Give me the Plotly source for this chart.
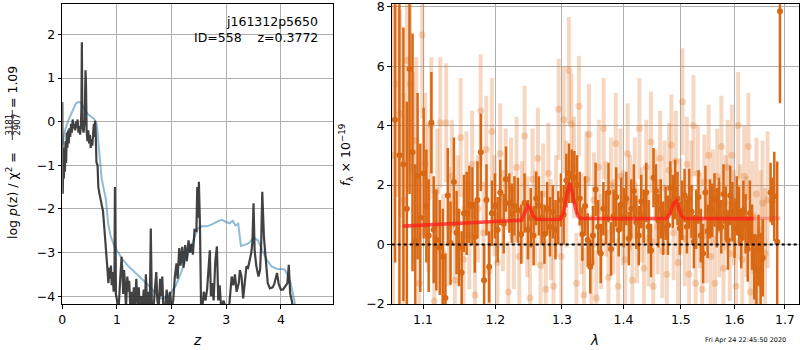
import plotly.graph_objects as go
import numpy as np

# ---- redshift probability, log p(z) ----
z_pz = [0.000, 0.008, 0.018, 0.028, 0.038, 0.048, 0.058, 0.070, 0.082, 0.094,
        0.106, 0.118, 0.130, 0.145, 0.160, 0.175, 0.190, 0.205, 0.220, 0.235,
        0.250, 0.265, 0.280, 0.295, 0.310, 0.325, 0.340, 0.350, 0.358, 0.368,
        0.390, 0.410, 0.425, 0.433, 0.445, 0.460, 0.475, 0.490, 0.505, 0.520,
        0.535, 0.550, 0.565, 0.578, 0.590, 0.600, 0.612, 0.625, 0.645, 0.660,
        0.680, 0.700, 0.725, 0.745, 0.770, 0.790, 0.805, 0.825, 0.845, 0.860,
        0.875, 0.890, 0.905, 0.920, 0.940, 0.955, 0.963, 0.980, 1.000, 1.030,
        1.060, 1.085, 1.100, 1.115, 1.130, 1.150, 1.165, 1.190, 1.210, 1.225,
        1.245, 1.270, 1.290, 1.310, 1.330, 1.355, 1.380, 1.400, 1.420, 1.440,
        1.465, 1.490, 1.510, 1.530, 1.550, 1.575, 1.600, 1.620, 1.640, 1.670,
        1.700, 1.720, 1.740, 1.765, 1.790, 1.810, 1.830, 1.850, 1.880, 1.910,
        1.940, 1.970, 2.000, 2.030, 2.060, 2.090, 2.110, 2.140, 2.165, 2.195,
        2.220, 2.250, 2.280, 2.310, 2.340, 2.365, 2.390, 2.420, 2.455, 2.470,
        2.485, 2.500, 2.520, 2.540, 2.560, 2.590, 2.620, 2.650, 2.680, 2.700,
        2.720, 2.740, 2.770, 2.800, 2.830, 2.855, 2.880, 2.910, 2.950, 3.000,
        3.050, 3.100, 3.130, 3.160, 3.190, 3.230, 3.250, 3.280, 3.310, 3.340,
        3.370, 3.400, 3.430, 3.460, 3.480, 3.500, 3.520, 3.550, 3.590, 3.620,
        3.640, 3.660, 3.690, 3.720, 3.760, 3.800, 3.850, 3.880, 3.930, 3.960,
        4.000, 4.040, 4.080, 4.120, 4.145, 4.170, 4.200, 4.240]
logp = [0.45, -1.65, -0.9, -1.3, -0.6, -1.15, -0.45, -0.95, -0.25, -0.6,
        -0.2, -0.5, -0.15, -0.35, -0.05, -0.25, 0.05, -0.15, -0.05, -0.2,
        0.0, -0.15, 0.05, -0.25, -0.1, -0.3, -0.1, 0.3, 1.82, -0.1,
        -0.25, 0.05, 1.18, 0.9, -0.2, -0.45, -0.2, -0.5, -0.3, -0.6,
        -0.4, -0.55, -0.25, -0.05, -0.35, 0.02, -0.3, -0.93, -1.0, -1.5,
        -1.65, -1.78, -1.9, -2.05, -2.45, -2.75, -3.0, -3.3, -3.7, -3.35,
        -3.6, -3.3, -3.75, -3.45, -3.9, -3.6, -1.5, -3.95, -4.1, -4.3,
        -3.6, -3.1, -3.45, -3.95, -3.4, -3.75, -4.3, -3.55, -3.9, -3.65,
        -4.3, -3.9, -4.3, -3.8, -4.2, -3.6, -4.3, -3.8, -4.3, -4.0,
        -4.3, -3.85, -4.3, -3.5, -4.2, -3.9, -4.3, -2.45, -4.3, -4.3,
        -3.75, -3.45, -4.1, -4.3, -3.6, -4.0, -3.55, -4.3, -4.3, -3.85,
        -4.3, -3.9, -4.3, -4.1, -3.55, -3.25, -3.6, -2.9, -3.3, -2.87,
        -3.35, -2.83, -3.2, -2.72, -3.0, -2.8, -3.05, -2.48, -2.5, -1.5,
        -2.2, -1.38, -2.4, -4.3, -4.3, -3.9, -4.1, -3.85, -3.3, -2.95,
        -4.0, -3.7, -4.1, -3.2, -2.86, -4.1, -3.75, -4.3, -4.1, -4.3,
        -4.3, -3.55, -3.75, -3.5, -3.9, -3.7, -3.4, -3.55, -4.05, -3.7,
        -3.32, -3.35, -3.17, -3.0, -2.75, -1.87, -2.95, -3.3, -3.55, -3.4,
        -2.8, -1.61, -2.64, -3.15, -3.7, -3.82, -3.8, -3.72, -3.47, -3.72,
        -3.85, -3.85, -3.78, -3.7, -3.28, -3.93, -4.1, -4.4]

# smoothed / prior curve
z_prior = [0.00, 0.05, 0.10, 0.15, 0.20, 0.25, 0.30, 0.34, 0.38, 0.42,
           0.47, 0.52, 0.58, 0.63, 0.66, 0.69, 0.72, 0.76, 0.80, 0.84,
           0.88, 0.95, 1.02, 1.10, 1.20, 1.30, 1.40, 1.50, 1.60, 1.68,
           1.76, 1.84, 1.92, 2.00, 2.08, 2.16, 2.24, 2.32, 2.40, 2.48,
           2.55, 2.65, 2.75, 2.85, 2.92, 3.00, 3.06, 3.12, 3.17, 3.22,
           3.27, 3.35, 3.42, 3.50, 3.58, 3.66, 3.75, 3.83, 3.92, 4.00,
           4.07, 4.12, 4.18, 4.24, 4.30]
logp_prior = [-0.55, -0.2, 0.0, 0.15, 0.3, 0.42, 0.45, 0.44, 0.35, 0.25,
              0.17, 0.12, 0.07, -0.05, -0.5, -0.9, -1.3, -1.55, -1.8, -2.35,
              -2.6, -2.85, -3.0, -3.15, -3.3, -3.42, -3.55, -3.65, -3.78, -3.9,
              -4.02, -4.07, -4.0, -3.9, -3.75, -3.5, -3.25, -3.0, -2.72, -2.45,
              -2.4, -2.4, -2.35, -2.28, -2.25, -2.3, -2.33, -2.27, -2.38, -2.34,
              -2.85, -2.82, -2.78, -2.66, -2.72, -2.95, -3.18, -3.32, -3.37, -3.38,
              -3.39, -3.5, -3.7, -4.05, -4.5]

# ---- binned spectrum (units of 1e-19) ----
wave_bin = [1.0636, 1.0692, 1.0743, 1.0788, 1.0823, 1.0862, 1.0898, 1.0928, 1.0964, 1.1008,
            1.1044, 1.1075, 1.1111, 1.1142, 1.1178, 1.1223, 1.1264, 1.1301, 1.1333, 1.1370,
            1.1416, 1.1453, 1.1485, 1.1523, 1.1555, 1.1593, 1.1631, 1.1673, 1.1706, 1.1744,
            1.1792, 1.1839, 1.1873, 1.1911, 1.1950, 1.1994, 1.2033, 1.2071, 1.2121, 1.2155,
            1.2204, 1.2240, 1.2279, 1.2330, 1.2379, 1.2429, 1.2480, 1.2522, 1.2565, 1.2604,
            1.2645, 1.2688, 1.2730, 1.2772, 1.2815, 1.2858, 1.2900, 1.2943, 1.2985, 1.3028,
            1.3070, 1.3112, 1.3155, 1.3197, 1.3240, 1.3282, 1.3325, 1.3368, 1.3410, 1.3452,
            1.3495, 1.3538, 1.3580, 1.3622, 1.3665, 1.3708, 1.3750, 1.3792, 1.3835, 1.3878,
            1.3920, 1.3962, 1.4005, 1.4048, 1.4090, 1.4132, 1.4175, 1.4218, 1.4260, 1.4302,
            1.4345, 1.4388, 1.4430, 1.4472, 1.4515, 1.4558, 1.4600, 1.4642, 1.4685, 1.4728,
            1.4770, 1.4812, 1.4855, 1.4898, 1.4940, 1.4982, 1.5025, 1.5068, 1.5110, 1.5152,
            1.5195, 1.5238, 1.5280, 1.5322, 1.5365, 1.5408, 1.5450, 1.5492, 1.5535, 1.5578,
            1.5620, 1.5662, 1.5705, 1.5748, 1.5790, 1.5832, 1.5875, 1.5918, 1.5960, 1.6002,
            1.6045, 1.6088, 1.6130, 1.6172, 1.6215, 1.6258, 1.6300, 1.6342, 1.6385, 1.6428,
            1.6470, 1.6512, 1.6555, 1.6710, 1.6745, 1.6785, 1.6845, 1.6900]
flux_bin = [4.2, 3.0, 2.7, 1.2, 5.9, 3.1, 0.1, 2.3, 0.9, 2.4,
            1.3, 0.3, 4.1, 0.5, 0.15, -0.1, -0.4, -1.8, 1.65, 0.05,
            2.1, 0.4, -0.1, -0.95, 1.05, 1.05, 1.35, 1.3, 0.25, 1.5,
            3.1, -1.2, 1.5, -0.75, 1.05, 1.3, 0.5, 1.75, 0.7, 2.2,
            1.4, 1.05, 1.3, 1.15, 0.35, 1.4, 0.5, 0.9, 0.3, 1.55,
            1.3, 0.9, 0.35, 1.2, 0.6, 1.1, 0.5, 0.9, 1.5, 1.0,
            2.15, 2.4, 2.3, 2.25, 2.0, 1.55, 0.35, 1.3, 0.15, -0.75,
            0.3, 1.85, 0.6, -0.3, 1.2, 0.9, 1.75, -0.15, 0.95, 1.6,
            0.5, 1.35, 0.9, 1.55, 0.2, 1.2, 1.8, 0.75, 0.3, 1.45,
            0.95, 1.75, 0.6, -0.2, 2.25, 1.8, 0.8, 1.2, 0.55, 1.05,
            0.65, 1.9, 1.45, 1.85, 1.55, 0.55, 1.15, 1.65, 0.6, 1.55,
            1.1, 0.1, 0.85, 1.6, 0.3, -0.3, 1.75, 0.45, 1.2, 1.15,
            1.5, 0.9, 1.35, 0.6, 1.7, 1.05, 0.15, 1.65, 1.1, 0.55,
            1.3, 0.95, 0.2, 1.15, 0.7, -0.15, 1.05, 0.25, -0.75, -0.85,
            -0.2, -0.9, -0.45, 1.75, 1.45, 1.62, 0.09, 7.85]
err_bin = [4.8, 5.5, 4.6, 3.6, 4.2, 4.0, 2.6, 2.8, 2.5, 2.2,
           1.9, 1.9, 1.7, 1.8, 1.7, 1.6, 1.6, 1.5, 1.6, 1.4,
           1.5, 1.4, 1.3, 1.4, 1.3, 1.4, 1.3, 1.3, 1.2, 1.3,
           1.3, 1.2, 1.2, 1.2, 1.1, 1.1, 1.1, 1.1, 1.0, 1.1,
           1.0, 1.0, 1.0, 1.1, 1.0, 1.0, 1.0, 1.0, 1.0, 0.9,
           1.0, 0.9, 1.0, 0.9, 1.0, 0.9, 1.0, 0.9, 0.9, 1.0,
           0.9, 1.0, 0.9, 0.9, 1.0, 0.9, 0.9, 1.0, 0.9, 0.9,
           1.0, 0.9, 0.9, 1.0, 0.9, 0.9, 1.0, 0.9, 0.9, 1.0,
           0.9, 0.9, 1.0, 0.9, 0.9, 1.0, 0.9, 0.9, 1.0, 0.9,
           0.9, 1.0, 0.9, 0.9, 1.0, 0.9, 0.9, 1.0, 0.9, 0.9,
           1.0, 0.9, 0.9, 1.0, 0.9, 0.9, 1.0, 0.9, 0.9, 1.0,
           0.9, 0.9, 1.0, 0.9, 0.9, 1.0, 0.9, 0.9, 1.0, 0.9,
           0.9, 1.0, 0.9, 0.9, 1.0, 0.9, 1.0, 1.0, 1.0, 1.0,
           1.0, 1.0, 1.0, 1.0, 1.0, 1.1, 1.1, 1.1, 1.1, 1.2,
           1.2, 1.3, 1.3, 1.0, 0.8, 1.5, 2.7, 3.1]

# ---- individual-beam spectrum (units of 1e-19) ----
wave_beam = [1.0610, 1.0655, 1.0700, 1.0745, 1.0790, 1.0830, 1.0870, 1.0910, 1.0950, 1.0990,
             1.1030, 1.1070, 1.1110, 1.1150, 1.1190, 1.1230, 1.1270, 1.1310, 1.1350, 1.1390,
             1.1430, 1.1470, 1.1510, 1.1550, 1.1590, 1.1630, 1.1670, 1.1710, 1.1750, 1.1790,
             1.1830, 1.1870, 1.1910, 1.1950, 1.1990, 1.2030, 1.2070, 1.2110, 1.2150, 1.2190,
             1.2230, 1.2270, 1.2310, 1.2350, 1.2390, 1.2430, 1.2470, 1.2510, 1.2550, 1.2590,
             1.2630, 1.2670, 1.2710, 1.2750, 1.2790, 1.2830, 1.2870, 1.2910, 1.2950, 1.2990,
             1.3030, 1.3070, 1.3110, 1.3150, 1.3190, 1.3230, 1.3270, 1.3310, 1.3350, 1.3390,
             1.3430, 1.3470, 1.3510, 1.3550, 1.3590, 1.3630, 1.3670, 1.3710, 1.3750, 1.3790,
             1.3830, 1.3870, 1.3910, 1.3950, 1.3990, 1.4030, 1.4070, 1.4110, 1.4150, 1.4190,
             1.4230, 1.4270, 1.4310, 1.4350, 1.4390, 1.4430, 1.4470, 1.4510, 1.4550, 1.4590,
             1.4630, 1.4670, 1.4710, 1.4750, 1.4790, 1.4830, 1.4870, 1.4910, 1.4950, 1.4990,
             1.5030, 1.5070, 1.5110, 1.5150, 1.5190, 1.5230, 1.5270, 1.5310, 1.5350, 1.5390,
             1.5430, 1.5470, 1.5510, 1.5550, 1.5590, 1.5630, 1.5670, 1.5710, 1.5750, 1.5790,
             1.5830, 1.5870, 1.5910, 1.5950, 1.5990, 1.6030, 1.6070, 1.6110, 1.6150, 1.6190,
             1.6230, 1.6270, 1.6310, 1.6350, 1.6390, 1.6430, 1.6470, 1.6510, 1.6550, 1.6600,
             1.6650]
flux_beam = [3.0, 5.4, 4.4, 1.5, 6.2, 5.4, 2.6, 3.5, -1.3, 7.05,
             2.7, 1.6, 4.0, -1.9, 1.8, 4.1, -0.3, 4.1, 0.6, 2.3,
             -1.2, 1.1, 3.6, -0.5, 2.0, 0.3, 2.7, -1.7, 1.2, 4.5,
             0.4, 3.2, -0.9, 3.8, 1.3, -0.6, 3.05, 0.8, 2.2, -1.6,
             1.9, 0.2, 2.6, -0.4, 1.1, 3.65, 0.6, -1.8, 2.2, 0.9,
             2.9, -0.7, 1.7, -1.5, 2.4, 0.5, -1.4, 1.3, 4.55, -0.4,
             4.2, 1.7, 5.85, 4.05, 2.6, -1.3, 4.65, 0.7, -1.7, 2.2,
             3.7, -0.6, 1.5, -1.8, 2.6, 0.1, 3.9, 1.2, -1.1, 2.0,
             0.6, 3.4, -1.4, 2.3, 0.9, -0.5, 3.05, 1.4, -1.2, 2.0,
             0.3, 3.9, 1.0, -0.8, 2.6, 0.2, 3.45, -1.4, 1.6, 0.6,
             2.9, -0.2, 1.9, -1.0, 2.5, 3.35, 0.4, 2.8, -0.6, 1.3,
             4.8, 0.2, 2.7, -1.0, 1.9, 4.0, -1.3, 2.4, 0.8, -1.5,
             2.1, 0.3, 3.0, -0.4, 1.6, -1.3, 2.3, 0.5, 3.3, -0.8,
             1.4, 2.6, -0.3, 3.0, 0.9, -1.4, 4.0, 1.1, -0.5, 2.3,
             0.6, 3.3, -1.6, 1.0, -0.9, 1.7, -1.2, 0.5, 1.4, -0.3,
             1.5]
err_beam = [6.0, 3.8, 3.5, 3.6, 3.4, 3.0, 3.2, 2.8, 2.6, 2.8,
            2.4, 2.5, 2.3, 2.2, 2.1, 2.2, 2.0, 2.0, 2.0, 1.9,
            1.9, 1.9, 2.0, 1.8, 1.8, 1.8, 1.8, 1.8, 1.8, 1.9,
            1.7, 1.8, 1.7, 1.8, 1.7, 1.7, 1.7, 1.7, 1.7, 1.7,
            1.7, 1.7, 1.7, 1.7, 1.7, 1.7, 1.7, 1.7, 1.7, 1.6,
            1.7, 1.6, 1.7, 1.7, 1.7, 1.7, 1.7, 1.7, 1.7, 1.7,
            1.8, 1.8, 1.8, 1.7, 1.7, 1.7, 1.7, 1.7, 1.6, 1.6,
            1.7, 1.6, 1.6, 1.6, 1.6, 1.6, 1.7, 1.6, 1.6, 1.6,
            1.6, 1.7, 1.6, 1.6, 1.6, 1.6, 1.7, 1.6, 1.6, 1.6,
            1.6, 1.7, 1.6, 1.6, 1.6, 1.6, 1.7, 1.6, 1.6, 1.6,
            1.6, 1.6, 1.6, 1.6, 1.6, 1.7, 1.6, 1.7, 1.6, 1.6,
            1.8, 1.6, 1.6, 1.6, 1.6, 1.7, 1.6, 1.6, 1.6, 1.6,
            1.6, 1.6, 1.7, 1.6, 1.6, 1.6, 1.6, 1.6, 1.7, 1.6,
            1.6, 1.6, 1.6, 1.7, 1.6, 1.6, 1.8, 1.6, 1.7, 1.7,
            1.7, 1.8, 1.8, 1.8, 1.9, 1.9, 2.0, 2.0, 2.1, 2.2,
            2.3]

# ---- best-fit model ----
wave_model = [1.0735, 1.1000, 1.1500, 1.2000, 1.2350, 1.2385, 1.2430, 1.2475, 1.2515, 1.2555,
              1.2605, 1.2700, 1.2980, 1.3030, 1.3080, 1.3125, 1.3165, 1.3210, 1.3255, 1.3300,
              1.4000, 1.4750, 1.4810, 1.4860, 1.4920, 1.4965, 1.5010, 1.5060, 1.5500, 1.6370]
flux_model = [0.62, 0.65, 0.70, 0.76, 0.80, 0.82, 1.05, 1.30, 1.22, 0.98,
              0.86, 0.84, 0.85, 1.10, 1.70, 2.07, 1.75, 1.25, 0.95, 0.88,
              0.87, 0.88, 1.05, 1.35, 1.47, 1.25, 0.98, 0.88, 0.87, 0.87]
wave_model_ext = [1.6200, 1.6904]
flux_model_ext = [0.87, 0.88]

# ---- labels ----
field_name = "j161312p5650"
obj_label = "ID=558    z=0.3772"
stamp = "Fri Apr 24 22:45:50 2020"

W, H = 800, 350
FONT = "DejaVu Sans"
ORANGE = "rgb(216,104,20)"
ORANGE_LIGHT = "rgba(222,110,30,0.27)"


def fx(p):
    return p / W


def fy(p):
    return 1 - p / H


fig = go.Figure()

# left panel: p(z)
fig.add_trace(go.Scatter(x=z_prior, y=logp_prior, mode="lines",
                         line=dict(color="rgba(31,119,180,0.5)", width=2),
                         xaxis="x", yaxis="y", showlegend=False))
fig.add_trace(go.Scatter(x=z_pz, y=logp, mode="lines",
                         line=dict(color="rgba(40,40,40,0.88)", width=2.2),
                         xaxis="x", yaxis="y", showlegend=False))

# right panel: spectrum
fig.add_trace(go.Scatter(x=wave_beam, y=flux_beam, mode="markers",
                         marker=dict(color=ORANGE_LIGHT, size=7, line=dict(width=0)),
                         error_y=dict(type="data", array=err_beam, color=ORANGE_LIGHT,
                                      thickness=4, width=0),
                         xaxis="x2", yaxis="y2", showlegend=False))
fig.add_trace(go.Scatter(x=wave_bin, y=flux_bin, mode="markers",
                         marker=dict(color=ORANGE, size=6, line=dict(width=0)),
                         error_y=dict(type="data", array=err_bin, color=ORANGE,
                                      thickness=2.5, width=0),
                         xaxis="x2", yaxis="y2", showlegend=False))
fig.add_trace(go.Scatter(x=wave_model_ext, y=flux_model_ext, mode="lines",
                         line=dict(color="rgba(255,40,40,0.3)", width=3.5),
                         xaxis="x2", yaxis="y2", showlegend=False))
fig.add_trace(go.Scatter(x=wave_model, y=flux_model, mode="lines",
                         line=dict(color="rgba(255,30,25,0.75)", width=3.6),
                         xaxis="x2", yaxis="y2", showlegend=False))

axis_common = dict(showline=True, mirror=True, linecolor="black", linewidth=1,
                   ticks="outside", ticklen=3.5, tickwidth=0.8, tickcolor="black",
                   showgrid=True, gridcolor="#b0b0b0", gridwidth=0.8, zeroline=False,
                   ticklabeloverflow="allow",
                   tickfont=dict(family=FONT, size=12.5, color="black"))

fig.update_layout(
    width=W, height=H, margin=dict(l=0, r=0, t=0, b=0, autoexpand=False),
    autosize=False,
    paper_bgcolor="white", plot_bgcolor="white",
    xaxis=dict(domain=[fx(62.3), fx(333.3)], range=[0, 4.96],
               tickvals=[0, 1, 2, 3, 4], anchor="y", **axis_common),
    yaxis=dict(domain=[fy(304), fy(4.3)], range=[-4.18, 2.69],
               tickvals=[-4, -3, -2, -1, 0, 1, 2],
               ticktext=["\u22124", "\u22123", "\u22122", "\u22121", "0", "1", "2"],
               anchor="x", **axis_common),
    xaxis2=dict(domain=[fx(391.7), fx(799.3)], type="log",
                range=[np.log10(1.0593), np.log10(1.7298)],
                tickvals=[1.1, 1.2, 1.3, 1.4, 1.5, 1.6, 1.7],
                ticktext=["1.1", "1.2", "1.3", "1.4", "1.5", "1.6", "1.7"],
                anchor="y2", **axis_common),
    yaxis2=dict(domain=[fy(304), fy(4.3)], range=[-2.0, 8.08],
                tickvals=[-2, 0, 2, 4, 6, 8],
                ticktext=["\u22122", "0", "2", "4", "6", "8"],
                anchor="x2", **axis_common),
)

# zero level
fig.add_shape(type="line", xref="x2 domain", yref="y2", x0=0, x1=1, y0=0, y1=0,
              line=dict(color="black", width=2, dash="dot"), layer="above")

ann = []
# object labels
ann.append(dict(x=fx(319.5), y=fy(21.5), xref="paper", yref="paper", text=field_name,
                showarrow=False, xanchor="right", yanchor="middle",
                font=dict(family=FONT, size=12.5, color="black")))
ann.append(dict(x=fx(319.5), y=fy(37), xref="paper", yref="paper", text=obj_label,
                showarrow=False, xanchor="right", yanchor="middle",
                font=dict(family=FONT, size=12.5, color="black")))
# x titles
ann.append(dict(x=fx(197), y=fy(340), xref="paper", yref="paper", text="<i>z</i>",
                showarrow=False, xanchor="center", yanchor="middle",
                font=dict(family=FONT, size=13.5, color="black")))
ann.append(dict(x=fx(594), y=fy(340), xref="paper", yref="paper", text="<i>λ</i>",
                showarrow=False, xanchor="center", yanchor="middle",
                font=dict(family=FONT, size=13.5, color="black")))
# left y title, with a stacked fraction
ann.append(dict(x=fx(12), y=fy(196), xref="paper", yref="paper",
                text="log <i>p</i>(z) / χ<sup>2</sup> =", textangle=-90,
                showarrow=False, xanchor="center", yanchor="middle",
                font=dict(family=FONT, size=12.5, color="black")))
ann.append(dict(x=fx(8.5), y=fy(125), xref="paper", yref="paper", text="3181",
                textangle=-90, showarrow=False, xanchor="center", yanchor="middle",
                font=dict(family=FONT, size=8.5, color="black")))
ann.append(dict(x=fx(16.5), y=fy(125), xref="paper", yref="paper", text="2907",
                textangle=-90, showarrow=False, xanchor="center", yanchor="middle",
                font=dict(family=FONT, size=8.5, color="black")))
ann.append(dict(x=fx(12), y=fy(87), xref="paper", yref="paper", text="= 1.09",
                textangle=-90, showarrow=False, xanchor="center", yanchor="middle",
                font=dict(family=FONT, size=12.5, color="black")))
fig.add_shape(type="line", xref="paper", yref="paper", x0=fx(12.3), x1=fx(12.3),
              y0=fy(110), y1=fy(140), line=dict(color="black", width=0.8))
# right y title
ann.append(dict(x=fx(346), y=fy(155), xref="paper", yref="paper",
                text="<i>f</i><sub>λ</sub> × 10<sup>−19</sup>", textangle=-90,
                showarrow=False, xanchor="center", yanchor="middle",
                font=dict(family=FONT, size=12.5, color="black")))
# timestamp
ann.append(dict(x=fx(788), y=fy(340), xref="paper", yref="paper", text=stamp,
                showarrow=False, xanchor="right", yanchor="middle",
                font=dict(family=FONT, size=6.5, color="black")))
fig.update_layout(annotations=ann)

# keep the page exactly the size of the figure
page_css = ("var s=document.createElement('style');"
            "s.innerHTML='html,body{margin:0;padding:0;overflow:hidden;}"
            ".plotly-graph-div{display:block;}';"
            "document.head.appendChild(s);")
fig.write_html("out.html", config={"responsive": False}, post_script=page_css)
